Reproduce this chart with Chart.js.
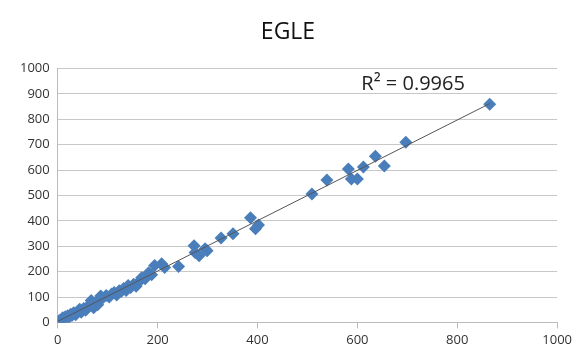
<!DOCTYPE html>
<html>
<head>
<meta charset="utf-8">
<script src="https://cdn.jsdelivr.net/npm/chart.js@4"></script>
<style>
  body { margin: 0; background: #fff; }
  #wrap { width: 576px; height: 354px; }
</style>
</head>
<body>
<div id="wrap"><canvas id="myChart" width="576" height="354"></canvas></div>
<script>
// values
var xValues = [2, 5, 8, 10, 12, 15, 18, 20, 23, 26, 29, 32, 36, 40, 44, 47, 52, 56, 60, 64, 67, 72, 76, 80, 86, 90, 97, 103, 108, 113, 118, 123, 127, 132, 137, 141, 146, 152, 157, 163, 168, 175, 182, 188, 194, 208, 214, 242, 273, 275, 283, 295, 299, 327, 351, 386, 396, 402, 509, 539, 582, 588, 600, 612, 636, 654, 697, 865];
var yValues = [6, 8, 3, 18, 10, 22, 14, 26, 20, 32, 28, 38, 30, 44, 52, 40, 55, 48, 62, 70, 86, 58, 78, 70, 104, 96, 106, 100, 112, 118, 108, 125, 122, 134, 126, 145, 138, 150, 142, 160, 176, 172, 196, 188, 224, 231, 216, 220, 302, 275, 263, 290, 282, 333, 349, 412, 369, 384, 506, 561, 604, 565, 565, 612, 655, 616, 710, 860];
var trendX = [0, 865];
var trendY = [4, 862];
var r2Label = "R\u00b2 = 0.9965";
var xTicks = [0, 200, 400, 600, 800, 1000];
var yTicks = [0, 100, 200, 300, 400, 500, 600, 700, 800, 900, 1000];

var points = xValues.map(function(x, i){ return {x: x, y: yValues[i]}; });
var trend = trendX.map(function(x, i){ return {x: x, y: trendY[i]}; });

// draws the R² text at a data position
var r2Plugin = {
  id: "r2",
  afterDatasetsDraw: function(chart){
    var ctx = chart.ctx;
    var px = chart.scales.x.getPixelForValue(608);
    var py = chart.scales.y.getPixelForValue(938);
    ctx.save();
    ctx.font = "20px 'Open Sans'";
    ctx.fillStyle = "#222";
    ctx.textBaseline = "middle";
    ctx.fillText(r2Label, px, py);
    ctx.restore();
  }
};

var myChart = document.getElementById("myChart").getContext("2d");
var scatter = new Chart(myChart, {
  type: "scatter",
  data: {
    datasets: [{
      label: "trend",
      data: trend,
      showLine: true,
      borderColor: "#555",
      borderWidth: 1,
      pointRadius: 0,
      order: 0
    }, {
      label: "EGLE",
      data: points,
      pointStyle: "rectRot",
      pointRadius: 6.5,
      backgroundColor: "#4a7ebb",
      borderColor: "#4a7ebb",
      borderWidth: 0,
      order: 1
    }]
  },
  options: {
    responsive: false,
    animation: false,
    layout: { padding: { left: 12, right: 12, top: 4, bottom: 2 } },
    plugins: {
      legend: { display: false },
      tooltip: { enabled: false },
      title: {
        display: true,
        text: "EGLE",
        color: "#111",
        font: { family: "'Open Sans'", size: 23, weight: "normal" },
        padding: { top: 15, bottom: 22 }
      }
    },
    scales: {
      x: {
        min: 0, max: 1000,
        afterBuildTicks: function(s){ s.ticks = xTicks.map(function(v){ return {value: v}; }); },
        grid: { display: true, drawOnChartArea: false, color: "#bbb", tickLength: 6 },
        border: { color: "#bbb" },
        ticks: { color: "#333", font: { family: "'Open Sans'", size: 13 }, maxRotation: 0, padding: 4,
          callback: function(v){ return String(v); } }
      },
      y: {
        min: 0, max: 1000,
        afterBuildTicks: function(s){ s.ticks = yTicks.map(function(v){ return {value: v}; }); },
        grid: { color: "#c8c8c8", drawTicks: false },
        border: { color: "#bbb" },
        ticks: { color: "#333", font: { family: "'Open Sans'", size: 13 }, padding: 8,
          callback: function(v){ return String(v); } }
      }
    }
  },
  plugins: [r2Plugin]
});
</script>
</body>
</html>
